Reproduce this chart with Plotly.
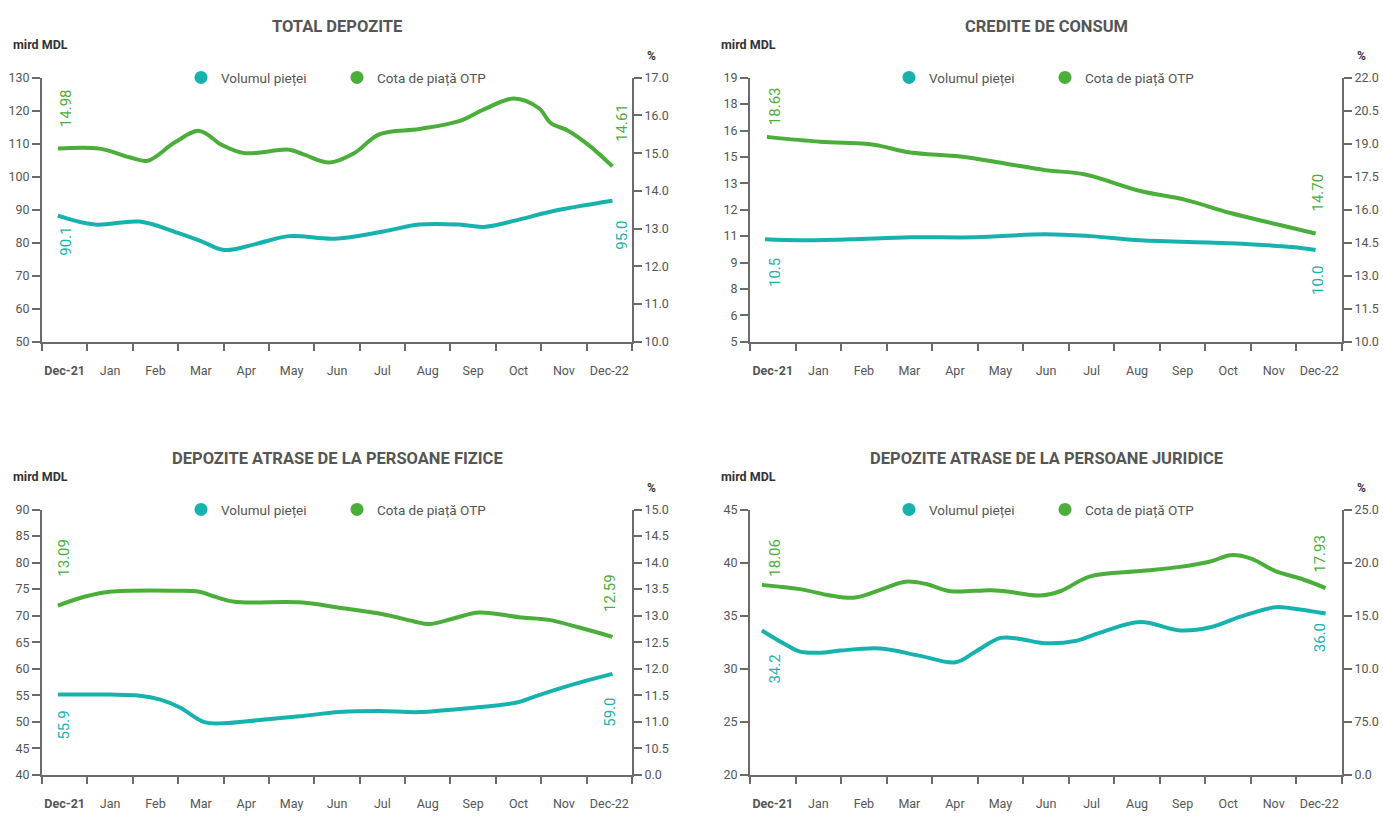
import plotly.graph_objects as go

W, H = 1383, 816
TEAL = "#18B2AE"
GREEN = "#4BAE3B"
AX = "#6b6b6b"
TXT = "#555555"
FONT = "Roboto"

months = ["<b>Dec-21</b>", "Jan", "Feb", "Mar", "Apr", "May", "Jun", "Jul", "Aug", "Sep", "Oct", "Nov", "Dec-22"]
series_names = ["Volumul pieței", "Cota de piață OTP"]

# ---- TOTAL DEPOZITE ----
td_vol_x = [-0.15, 0.66, 1.65, 2.49, 3.0, 3.52, 4.18, 4.95, 5.94, 7.02, 7.81, 8.69, 9.24, 10.01, 10.77, 12.07]
td_vol = [88.2, 85.5, 86.4, 83.0, 80.5, 77.8, 79.5, 82.0, 81.2, 83.4, 85.5, 85.5, 84.8, 87.0, 89.6, 92.7]
td_sh_x = [-0.15, 0.77, 1.43, 1.83, 2.42, 2.97, 3.46, 3.96, 4.95, 5.28, 5.83, 6.38, 6.93, 7.81, 8.69, 9.24, 9.9, 10.45, 10.71, 11.1, 11.54, 12.07]
td_sh = [15.12, 15.12, 14.89, 14.8, 15.28, 15.59, 15.22, 15.0, 15.09, 14.96, 14.75, 15.0, 15.5, 15.64, 15.85, 16.16, 16.45, 16.19, 15.8, 15.59, 15.22, 14.65]
td_labels = ["14.98", "90.1", "14.61", "95.0"]

# ---- CREDITE DE CONSUM ----
cc_vol_x = [-0.17, 0.6, 1.7, 3.02, 4.45, 5.98, 6.97, 8.07, 10.05, 11.4, 11.92]
cc_vol = [10.43, 10.38, 10.43, 10.54, 10.54, 10.7, 10.6, 10.38, 10.22, 10.02, 9.86]
cc_sh_x = [-0.13, 1.04, 2.03, 2.36, 3.02, 4.12, 5.1, 5.98, 6.86, 8.07, 9.06, 10.05, 11.04, 11.92]
cc_sh = [19.31, 19.09, 19.0, 18.9, 18.6, 18.42, 18.1, 17.8, 17.6, 16.85, 16.45, 15.85, 15.35, 14.92]
cc_labels = ["18.63", "10.5", "14.70", "10.0"]

# ---- DEPOZITE ATRASE DE LA PERSOANE FIZICE ----
pf_vol_x = [-0.15, 0.99, 1.65, 2.09, 2.53, 3.08, 3.52, 4.29, 5.17, 6.05, 6.93, 7.81, 8.69, 9.57, 10.01, 10.45, 11.32, 12.07]
pf_vol = [55.1, 55.1, 54.9, 54.2, 52.7, 49.9, 49.7, 50.3, 51.0, 51.8, 52.0, 51.8, 52.4, 53.1, 53.7, 55.0, 57.3, 59.0]
pf_sh_x = [-0.15, 0.45, 0.99, 2.42, 2.97, 3.3, 3.74, 5.17, 6.05, 7.04, 7.7, 8.03, 8.58, 9.13, 10.01, 10.67, 11.32, 12.07]
pf_sh = [13.19, 13.36, 13.45, 13.47, 13.45, 13.36, 13.26, 13.25, 13.15, 13.02, 12.89, 12.84, 12.95, 13.06, 12.97, 12.92, 12.78, 12.6]
pf_labels = ["13.09", "55.9", "12.59", "59.0"]

# ---- DEPOZITE ATRASE DE LA PERSOANE JURIDICE ----
pj_vol_x = [-0.24, 0.27, 0.6, 1.04, 1.48, 2.36, 3.24, 4.01, 4.45, 5.0, 5.43, 5.98, 6.64, 7.19, 8.07, 8.95, 9.61, 10.27, 11.04, 11.37, 12.14]
pj_vol = [33.6, 32.3, 31.6, 31.5, 31.7, 31.9, 31.2, 30.6, 31.6, 32.9, 32.8, 32.4, 32.6, 33.4, 34.4, 33.6, 33.9, 34.9, 35.8, 35.7, 35.2]
pj_sh_x = [-0.24, 0.6, 1.26, 1.81, 2.47, 2.91, 3.35, 3.9, 4.77, 5.1, 5.87, 6.31, 6.97, 8.07, 8.95, 9.61, 10.05, 10.49, 11.04, 11.59, 12.14]
pj_sh = [17.9, 17.5, 16.9, 16.7, 17.6, 18.2, 18.0, 17.3, 17.4, 17.3, 16.9, 17.3, 18.7, 19.2, 19.6, 20.1, 20.7, 20.4, 19.2, 18.5, 17.6]
pj_labels = ["18.06", "34.2", "17.93", "36.0"]

titles = ["TOTAL DEPOZITE", "CREDITE DE CONSUM",
          "DEPOZITE ATRASE DE LA PERSOANE FIZICE", "DEPOZITE ATRASE DE LA PERSOANE JURIDICE"]

# left-axis tick settings (values) and right-axis tick values/texts
left_ranges = [(50, 130), (5, 19), (40, 90), (20, 45)]
left_dticks = [10, 1.4, 5, 5]
right_tickvals = [
    [10, 11, 12, 13, 14, 15, 16, 17],
    [10, 11.5, 13, 14.5, 16, 17.5, 19, 20.5, 22],
    [10, 10.5, 11, 11.5, 12, 12.5, 13, 13.5, 14, 14.5, 15],
    [0, 5, 10, 15, 20, 25],
]
right_ticktext = [
    ["10.0", "11.0", "12.0", "13.0", "14.0", "15.0", "16.0", "17.0"],
    ["10.0", "11.5", "13.0", "14.5", "16.0", "17.5", "19.0", "20.5", "22.0"],
    ["0.0", "10.5", "11.0", "11.5", "12.0", "12.5", "13.0", "13.5", "14.0", "14.5", "15.0"],
    ["0.0", "75.0", "10.0", "15.0", "20.0", "25.0"],
]

panels = [
    (td_vol_x, td_vol, td_sh_x, td_sh, td_labels),
    (cc_vol_x, cc_vol, cc_sh_x, cc_sh, cc_labels),
    (pf_vol_x, pf_vol, pf_sh_x, pf_sh, pf_labels),
    (pj_vol_x, pj_vol, pj_sh_x, pj_sh, pj_labels),
]

# plot-area pixel boxes (left, right, top, bottom)
boxes = [(42, 632, 71, 340), (750, 1342, 71, 340), (42, 632, 511, 781), (750, 1342, 511, 781)]
# label pixel positions: (x, y) for start share, start vol, end share, end vol
label_px = [
    [(66, 102), (66, 238), (622, 117), (622, 232)],
    [(775, 100), (775, 270), (1318, 188), (1318, 278)],
    [(64, 560), (64, 731), (610, 596), (610, 718)],
    [(775, 560), (775, 674), (1320, 556), (1320, 642)],
]

fig = go.Figure()
layout = dict(
    width=W, height=H, margin=dict(l=0, r=0, t=0, b=0),
    paper_bgcolor="white", plot_bgcolor="white",
    font=dict(family=FONT, size=12, color=TXT),
    showlegend=True,
)
annotations = []

def px(x):
    return x / W

def py(y):
    return 1 - y / H

for i, (vx, vy, sx, sy, labs) in enumerate(panels):
    l, r, t, b = boxes[i]
    xa = "x" if i == 0 else f"x{i+1}"
    ya_l = "y" if i == 0 else f"y{2*i+1}"
    ya_r = f"y{2*i+2}"
    leg = "legend" if i == 0 else f"legend{i+1}"

    fig.add_trace(go.Scatter(x=vx, y=vy, mode="lines", line=dict(color=TEAL, width=4, shape="spline", smoothing=1.0),
                             xaxis=xa, yaxis=ya_l, showlegend=False, hoverinfo="skip"))
    fig.add_trace(go.Scatter(x=sx, y=sy, mode="lines", line=dict(color=GREEN, width=4, shape="spline", smoothing=1.0),
                             xaxis=xa, yaxis=ya_r, showlegend=False, hoverinfo="skip"))
    # legend entries
    for name, col in zip(series_names, [TEAL, GREEN]):
        fig.add_trace(go.Scatter(x=[None], y=[None], mode="markers", name=name,
                                 marker=dict(color=col, size=13, symbol="circle"),
                                 xaxis=xa, yaxis=ya_l, legend=leg, showlegend=True))

    xk = "xaxis" if i == 0 else f"xaxis{i+1}"
    ylk = "yaxis" if i == 0 else f"yaxis{2*i+1}"
    yrk = f"yaxis{2*i+2}"
    layout[xk] = dict(
        domain=[px(l), px(r)], anchor=ya_l, range=[-0.5, 12.5],
        tickmode="array", tickvals=list(range(13)), ticktext=months,
        ticks="", showline=True, linecolor=AX, linewidth=2,
        showgrid=False, zeroline=False, ticklabelstandoff=16,
        tickfont=dict(size=12.5, color=TXT),
        minor=dict(tickmode="linear", tick0=-0.5, dtick=1, ticks="outside", ticklen=7,
                   tickwidth=2, tickcolor=AX, showgrid=False),
    )
    lo, hi = left_ranges[i]
    layout[ylk] = dict(
        domain=[py(b), py(t)], anchor=xa, range=[lo, hi],
        tickmode="linear", tick0=lo, dtick=left_dticks[i], tickformat=".0f",
        ticks="outside", ticklen=8, tickwidth=2, tickcolor=AX,
        showline=True, linecolor=AX, linewidth=2, showgrid=False, zeroline=False,
        tickfont=dict(size=12.5, color=TXT),
    )
    rv = right_tickvals[i]
    layout[yrk] = dict(
        overlaying=ya_l, side="right", anchor=xa, range=[rv[0], rv[-1]],
        tickmode="array", tickvals=rv, ticktext=right_ticktext[i],
        ticks="outside", ticklen=8, tickwidth=2, tickcolor=AX,
        showline=True, linecolor=AX, linewidth=2, showgrid=False, zeroline=False,
        tickfont=dict(size=12.5, color=TXT),
    )
    layout[leg] = dict(
        orientation="h", x=px(l + 139), y=py(t), xanchor="left", yanchor="middle",
        bgcolor="rgba(0,0,0,0)", font=dict(size=13.5, color=TXT), itemwidth=30,
        entrywidth=111,
    )
    # titles and unit labels
    annotations.append(dict(text=f"<b>{titles[i]}</b>", x=px((l + r) / 2), y=py(t - 52),
                            xref="paper", yref="paper", showarrow=False,
                            font=dict(size=16.5, color=TXT), xanchor="center", yanchor="middle"))
    annotations.append(dict(text="<b>mird MDL</b>", x=px(l - 31), y=py(t - 34),
                            xref="paper", yref="paper", showarrow=False,
                            font=dict(size=12.5, color="#333333"), xanchor="left", yanchor="middle"))
    annotations.append(dict(text="<b>%</b>", x=px(r + 19), y=py(t - 22),
                            xref="paper", yref="paper", showarrow=False,
                            font=dict(size=12, color="#333333"), xanchor="center", yanchor="middle"))
    cols = [GREEN, TEAL, GREEN, TEAL]
    for (lx, ly), txt, col in zip(label_px[i], labs, cols):
        annotations.append(dict(text=txt, x=px(lx), y=py(ly), xref="paper", yref="paper",
                                showarrow=False, textangle=-90,
                                font=dict(size=15, color=col), xanchor="center", yanchor="middle"))

layout["annotations"] = annotations
fig.update_layout(**layout)
fig.write_html("out.html")
